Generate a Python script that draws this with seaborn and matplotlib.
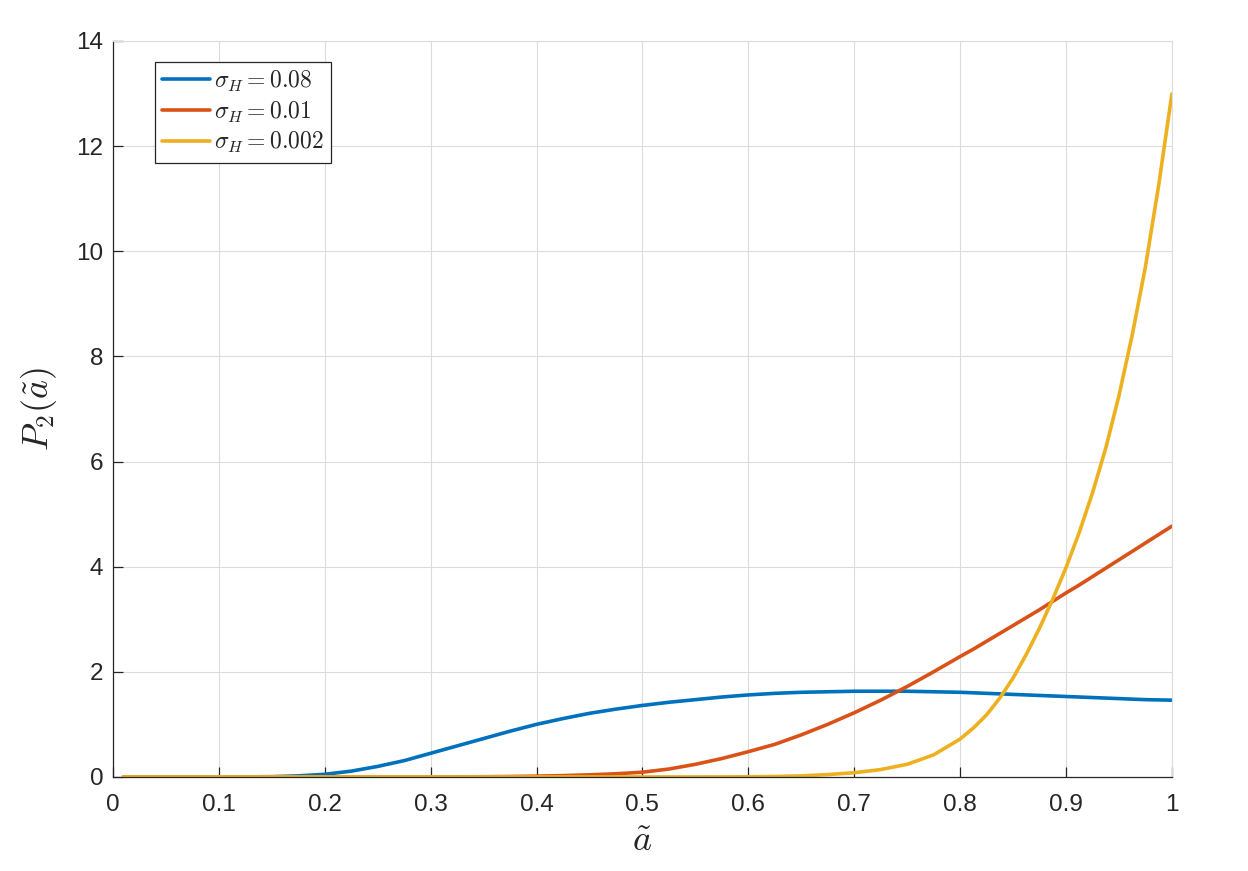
import numpy as np
import pandas as pd
import matplotlib
matplotlib.use("Agg")
import matplotlib.pyplot as plt
import seaborn as sns

# 横軸 (a tilde)
a_vals = [0.01, 0.025, 0.05, 0.075, 0.1, 0.125, 0.15, 0.175, 0.2, 0.225,
          0.25, 0.275, 0.3, 0.325, 0.35, 0.375, 0.4, 0.425, 0.45, 0.475,
          0.5, 0.525, 0.55, 0.575, 0.6, 0.625, 0.65, 0.675, 0.7, 0.725,
          0.75, 0.775, 0.8, 0.8125, 0.825, 0.8375, 0.85, 0.8625, 0.875, 0.8875,
          0.9, 0.9125, 0.925, 0.9375, 0.95, 0.9625, 0.975, 0.9875, 1.0]

# sigma_H = 0.08
p_008 = [0, 0, 0, 0, 0, 0.001, 0.005, 0.02, 0.05, 0.11,
         0.2, 0.31, 0.45, 0.59, 0.73, 0.87, 1.0, 1.11, 1.21, 1.29,
         1.36, 1.42, 1.47, 1.52, 1.56, 1.59, 1.61, 1.62, 1.63, 1.63,
         1.63, 1.62, 1.61, 1.60, 1.59, 1.58, 1.57, 1.56, 1.55, 1.54,
         1.53, 1.52, 1.51, 1.50, 1.49, 1.48, 1.47, 1.465, 1.46]

# sigma_H = 0.01
p_001 = [0, 0, 0, 0, 0, 0, 0, 0, 0, 0,
         0, 0, 0.001, 0.002, 0.004, 0.008, 0.015, 0.025, 0.04, 0.06,
         0.09, 0.15, 0.24, 0.35, 0.48, 0.62, 0.8, 1.0, 1.22, 1.46,
         1.72, 2.0, 2.29, 2.43, 2.58, 2.73, 2.88, 3.03, 3.18, 3.34,
         3.5, 3.65, 3.81, 3.97, 4.13, 4.29, 4.45, 4.61, 4.77]

# sigma_H = 0.002
p_0002 = [0, 0, 0, 0, 0, 0, 0, 0, 0, 0,
          0, 0, 0, 0, 0, 0, 0, 0, 0, 0,
          0, 0, 0, 0.001, 0.003, 0.008, 0.02, 0.045, 0.08, 0.14,
          0.24, 0.42, 0.72, 0.93, 1.18, 1.5, 1.88, 2.33, 2.83, 3.38,
          3.98, 4.65, 5.4, 6.25, 7.25, 8.4, 9.7, 11.25, 12.99]

labels = [r"$\sigma_H = 0.08$", r"$\sigma_H = 0.01$", r"$\sigma_H = 0.002$"]
colors = ["#0072BD", "#D95319", "#EDB120"]

df = pd.concat([
    pd.DataFrame({"a": a_vals, "P": vals, "sigma": lab})
    for vals, lab in zip([p_008, p_001, p_0002], labels)
])

sns.set_style("white")
plt.rcParams["font.family"] = ["Liberation Sans", "DejaVu Sans"]
plt.rcParams["mathtext.fontset"] = "cm"

fig = plt.figure(figsize=(12.48, 8.71), dpi=100)
ax = fig.add_axes([0.0905, 0.108, 0.8485, 0.845])

sns.lineplot(data=df, x="a", y="P", hue="sigma", palette=colors,
             linewidth=2.6, ax=ax, sort=False)

ax.set_xlim(0, 1)
ax.set_ylim(0, 14)
ax.set_xticks(np.arange(0, 1.01, 0.1))
ax.set_xticklabels(["0", "0.1", "0.2", "0.3", "0.4", "0.5", "0.6", "0.7", "0.8", "0.9", "1"])
ax.set_yticks(np.arange(0, 15, 2))

ax.grid(True, color="#dcdcdc", linewidth=0.8)
ax.set_axisbelow(True)
for side in ["top", "right"]:
    ax.spines[side].set_color("#dcdcdc")
    ax.spines[side].set_linewidth(0.8)
for side in ["left", "bottom"]:
    ax.spines[side].set_color("#262626")
    ax.spines[side].set_linewidth(0.9)

ax.tick_params(direction="in", length=7, width=0.9, colors="#262626",
               labelsize=17.5, top=False, right=False, bottom=True, left=True)
ax.tick_params(axis="x", pad=12)
ax.tick_params(axis="y", pad=7)

ax.set_xlabel(r"$\tilde{a}$", fontsize=26, labelpad=6)
ax.set_ylabel(r"$P_2(\tilde{a})$", fontsize=26, labelpad=12)

leg = ax.legend(loc="upper left", bbox_to_anchor=(0.04, 0.972), fontsize=17,
                frameon=True, fancybox=False, handlelength=2.0, handletextpad=0.2,
                borderpad=0.3, labelspacing=0.25, borderaxespad=0)
leg.get_frame().set_edgecolor("#262626")
leg.get_frame().set_linewidth(0.9)
leg.get_frame().set_alpha(1)

fig.savefig("out.png", dpi=100)
